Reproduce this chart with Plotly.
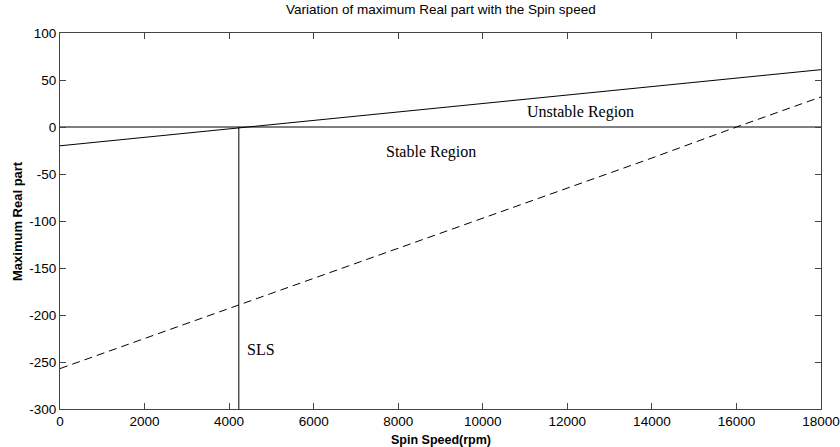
import plotly.graph_objects as go

# Data
speed = [0, 2000, 4000, 6000, 8000, 10000, 12000, 14000, 16000, 18000]
max_real_solid = [-20, -11, -2, 7, 16, 25, 34, 43, 52, 61]
max_real_dashed = [-257, -225, -193, -161, -129, -97, -65, -33, 0, 32]
sls_speed = 4230
x_ticks = [0, 2000, 4000, 6000, 8000, 10000, 12000, 14000, 16000, 18000]
y_ticks = [-300, -250, -200, -150, -100, -50, 0, 50, 100]

fig = go.Figure()
fig.add_trace(go.Scatter(x=speed, y=max_real_solid, mode="lines",
                         line=dict(color="black", width=1), showlegend=False))
fig.add_trace(go.Scatter(x=speed, y=max_real_dashed, mode="lines",
                         line=dict(color="black", width=1, dash="8px,5px"), showlegend=False))
fig.add_trace(go.Scatter(x=[0, 18000], y=[0, 0], mode="lines",
                         line=dict(color="black", width=1), showlegend=False))
fig.add_trace(go.Scatter(x=[sls_speed, sls_speed], y=[0, -300], mode="lines",
                         line=dict(color="black", width=1), showlegend=False))

serif = dict(family="Liberation Serif, Times New Roman, serif", size=16, color="black")
fig.add_annotation(x=12300, y=16, text="Unstable Region", showarrow=False, font=serif)
fig.add_annotation(x=8775, y=-27, text="Stable Region", showarrow=False, font=serif)
fig.add_annotation(x=4380, y=-237, text="SLS", showarrow=False, xanchor="left", font=serif)

fig.add_annotation(xref="paper", yref="paper", x=0.5, y=1, yshift=14, yanchor="bottom",
                   text="Variation of maximum Real part with the Spin speed", showarrow=False,
                   font=dict(family="Liberation Sans, Arial", size=13.5, color="black"))
fig.add_annotation(xref="paper", yref="paper", x=0.5, y=0, yshift=-31, yanchor="middle",
                   text="<b>Spin Speed(rpm)</b>", showarrow=False,
                   font=dict(family="Liberation Sans, Arial", size=12.5, color="black"))
fig.add_annotation(xref="paper", yref="paper", x=0, xshift=-43, y=0.5, xanchor="center",
                   text="<b>Maximum Real part</b>", textangle=-90, showarrow=False,
                   font=dict(family="Liberation Sans, Arial", size=13, color="black"))

axis_common = dict(showgrid=False, zeroline=False, showline=True, linecolor="#444",
                   linewidth=1, mirror="ticks", ticks="inside", ticklen=6, tickcolor="#444",
                   ticklabeloverflow="allow", automargin=False,
                   tickfont=dict(family="Liberation Sans, Arial", size=13.5, color="black"))
fig.update_xaxes(range=[0, 18000], tickvals=x_ticks, ticktext=[str(v) for v in x_ticks], **axis_common)
fig.update_yaxes(range=[-300, 100], tickvals=y_ticks, ticktext=[str(v) for v in y_ticks], **axis_common)

fig.update_layout(width=840, height=447, margin=dict(l=60, r=19, t=33, b=38),
                  plot_bgcolor="white", paper_bgcolor="white")
fig.write_html("out.html")
